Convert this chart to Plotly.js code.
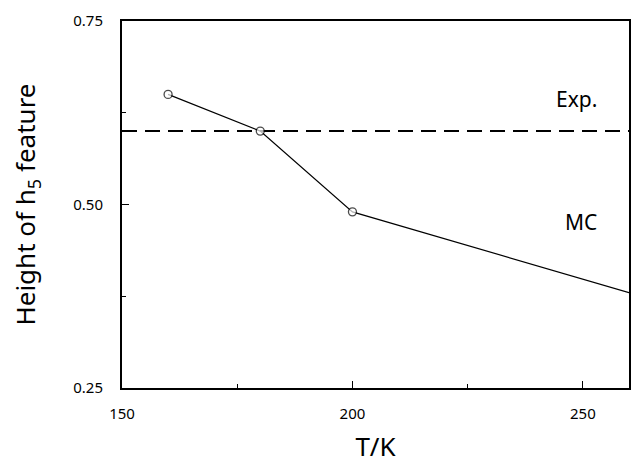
<!DOCTYPE html>
<html>
<head>
<meta charset="utf-8">
<script src="https://cdn.plot.ly/plotly-3.0.1.min.js"></script>
<style>html,body{margin:0;padding:0;background:#fff;}#chart{width:631px;height:472px;}</style>
</head>
<body>
<div id="chart"></div>
<script>
// MC simulation points (temperature in K, feature height)
var mcT = [160, 180, 200, 260];
var mcHeight = [0.65, 0.60, 0.49, 0.38];
var mcMarkerShown = [true, true, true, false];
// Experimental value
var expHeight = 0.60;
var xRange = [150, 260];
var yRange = [0.25, 0.75];
var xTicks = [150, 200, 250];
var yTicks = [0.25, 0.50, 0.75];
var yTickLabels = ['0.25', '0.50', '0.75'];

var font = 'Noto Sans, Liberation Sans, sans-serif';

var traces = [
  {
    x: xRange, y: [expHeight, expHeight], mode: 'lines', type: 'scatter',
    line: {color: '#000', width: 2, dash: '15px,8px'}, hoverinfo: 'skip'
  },
  {
    x: mcT, y: mcHeight, mode: 'lines+markers', type: 'scatter',
    line: {color: '#000', width: 1.2},
    marker: {symbol: 'circle', color: '#fff', size: mcMarkerShown.map(function(s){return s ? 8 : 0;}),
             line: {color: '#000', width: 1.3}},
    cliponaxis: false
  }
];

var layout = {
  width: 631, height: 472,
  margin: {l: 122, r: 2, t: 21, b: 84},
  paper_bgcolor: '#fff', plot_bgcolor: '#fff',
  showlegend: false,
  font: {family: font, color: '#000'},
  xaxis: {
    range: xRange, tickvals: xTicks, ticks: 'inside', ticklen: 7, tickwidth: 1, tickcolor: '#000',
    minor: {dtick: 25, tick0: 150, ticks: 'inside', ticklen: 4, tickwidth: 1, tickcolor: '#000'},
    showgrid: false, zeroline: false, showline: true, linecolor: '#000', linewidth: 2, mirror: true,
    tickfont: {size: 15, family: font}, ticklabelstandoff: 11,
    title: {text: 'T/K', font: {size: 26, family: font}, standoff: 16}
  },
  yaxis: {
    range: yRange, tickvals: yTicks, ticktext: yTickLabels, ticks: 'inside', ticklen: 7, tickwidth: 1, tickcolor: '#000',
    minor: {dtick: 0.125, tick0: 0.25, ticks: 'inside', ticklen: 4, tickwidth: 1, tickcolor: '#000'},
    showgrid: false, zeroline: false, showline: true, linecolor: '#000', linewidth: 2, mirror: true,
    tickfont: {size: 15, family: font}, ticklabelstandoff: 14,
    title: {text: 'Height of h<sub>5</sub> feature', font: {size: 26, family: font}, standoff: 30}
  },
  annotations: [
    {x: 243.7, y: 0.644, xref: 'x', yref: 'y', text: 'Exp.', showarrow: false, font: {size: 21, family: font}, xanchor: 'left'},
    {x: 245.7, y: 0.476, xref: 'x', yref: 'y', text: 'MC', showarrow: false, font: {size: 21, family: font}, xanchor: 'left'}
  ]
};

Plotly.newPlot('chart', traces, layout, {displayModeBar: false, staticPlot: true});
</script>
</body>
</html>
